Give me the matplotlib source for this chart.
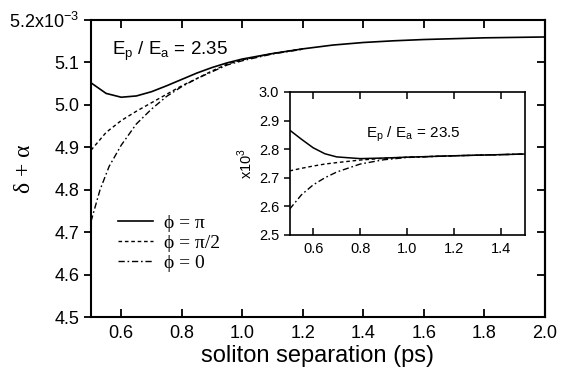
"""Soliton separation plot with inset"""

import matplotlib
matplotlib.use("Agg")
import matplotlib.pyplot as plt

plt.rcParams['font.family'] = ['Liberation Sans', 'DejaVu Sans']
plt.rcParams['mathtext.fontset'] = 'custom'
plt.rcParams['mathtext.rm'] = 'Liberation Sans'

# main panel, E_p/E_a = 2.35  (values in units of 1e-3)
sep_pi = [0.5, 0.55, 0.6, 0.65, 0.7, 0.75, 0.8, 0.85, 0.9, 0.95, 1.0, 1.1, 1.2,
          1.3, 1.4, 1.5, 1.6, 1.8, 2.0]
val_pi = [5.052, 5.027, 5.018, 5.021, 5.031, 5.045, 5.060, 5.075, 5.088, 5.099,
          5.108, 5.121, 5.132, 5.141, 5.147, 5.151, 5.154, 5.158, 5.160]
sep_half = [0.5, 0.55, 0.6, 0.65, 0.7, 0.75, 0.8, 0.85, 0.9, 0.95, 1.0, 1.1, 1.2]
val_half = [4.893, 4.935, 4.963, 4.985, 5.005, 5.025, 5.045, 5.062, 5.080,
            5.096, 5.106, 5.121, 5.132]
sep_zero = [0.5, 0.53, 0.56, 0.6, 0.65, 0.7, 0.75, 0.8, 0.85, 0.9, 0.95, 1.0,
            1.1, 1.2]
val_zero = [4.725, 4.800, 4.855, 4.905, 4.955, 4.990, 5.020, 5.043, 5.062,
            5.078, 5.094, 5.104, 5.120, 5.131]

# inset, E_p/E_a = 23.5
ins_sep = [0.5, 0.55, 0.6, 0.65, 0.7, 0.8, 0.9, 1.0, 1.2, 1.5]
ins_pi = [2.867, 2.835, 2.805, 2.784, 2.773, 2.767, 2.769, 2.772, 2.777, 2.783]
ins_half = [2.724, 2.733, 2.741, 2.748, 2.753, 2.762, 2.768, 2.772, 2.777, 2.783]
ins_zero = [2.590, 2.640, 2.675, 2.700, 2.720, 2.748, 2.763, 2.771, 2.777, 2.783]

labels = [r"ϕ = π", r"ϕ = π/2", r"ϕ = 0"]
x_ticks = [0.6, 0.8, 1.0, 1.2, 1.4, 1.6, 1.8, 2.0]
y_ticks = [4.5, 4.6, 4.7, 4.8, 4.9, 5.0, 5.1, 5.2]
y_ticklabels = ["4.5", "4.6", "4.7", "4.8", "4.9", "5.0", "5.1",
                r"5.2x10$^{-3}$"]
ins_x_ticks = [0.6, 0.8, 1.0, 1.2, 1.4]
ins_y_ticks = [2.5, 2.6, 2.7, 2.8, 2.9, 3.0]

dash_style = (0, (2.6, 2.0))
dashdot_style = (0, (4.5, 2.0, 1.2, 2.0))
serif = ['Liberation Serif', 'DejaVu Serif']

fig = plt.figure(figsize=(5.7, 3.74), dpi=100)
ax = fig.add_axes([0.1596, 0.1524, 0.7964, 0.7941])

l1, = ax.plot(sep_pi, val_pi, color='k', lw=1.2, label=labels[0])
l2, = ax.plot(sep_half, val_half, color='k', lw=1.0, ls=dash_style,
              label=labels[1])
l3, = ax.plot(sep_zero, val_zero, color='k', lw=1.0, ls=dashdot_style,
              label=labels[2])

ax.set_xlim(0.5, 2.0)
ax.set_ylim(4.5, 5.2)
ax.set_xticks(x_ticks)
ax.set_xticklabels([f"{t:.1f}" for t in x_ticks], fontsize=13)
ax.set_yticks(y_ticks)
ax.set_yticklabels(y_ticklabels, fontsize=13)
ax.tick_params(axis='x', direction='in', top=True, length=6, width=1.3, pad=6)
ax.tick_params(axis='y', direction='out', right=False, length=5, width=1.3)
# inward ticks on the right side
rax = ax.secondary_yaxis('right')
rax.set_yticks(y_ticks)
rax.tick_params(axis='y', direction='in', length=6, width=1.3,
                labelright=False)
rax.spines['right'].set_linewidth(1.5)
for spine in ax.spines.values():
    spine.set_linewidth(1.5)
ax.set_xlabel("soliton separation (ps)", fontsize=17, labelpad=2)
ax.set_ylabel("δ + α", fontsize=17, family=serif)
ax.yaxis.set_label_coords(-0.124, 0.5)
ax.text(0.046, 0.882, r"E$_\mathrm{p}$ / E$_\mathrm{a}$ = 2.35",
        transform=ax.transAxes, fontsize=13.5)

ax.legend(handles=[l1, l2, l3], loc='upper left',
          bbox_to_anchor=(0.02, 0.405), frameon=False,
          handlelength=1.8, handletextpad=0.6, labelspacing=0.12,
          prop={'family': serif, 'size': 14})

# inset
ins = fig.add_axes([0.508, 0.3717, 0.413, 0.3824])
ins.plot(ins_sep, ins_pi, color='k', lw=1.1)
ins.plot(ins_sep, ins_half, color='k', lw=1.0, ls=dash_style)
ins.plot(ins_sep, ins_zero, color='k', lw=1.0, ls=dashdot_style)
ins.set_xlim(0.5, 1.5)
ins.set_ylim(2.5, 3.0)
ins.set_xticks(ins_x_ticks)
ins.set_xticklabels([f"{t:.1f}" for t in ins_x_ticks], fontsize=10.5)
ins.set_yticks(ins_y_ticks)
ins.set_yticklabels([f"{t:.1f}" for t in ins_y_ticks], fontsize=10.5)
ins.tick_params(axis='x', direction='in', top=True, length=5, width=1.1, pad=5)
ins.tick_params(axis='y', direction='out', length=4, width=1.1)
for spine in ins.spines.values():
    spine.set_linewidth(1.2)
ins.set_ylabel(r"x10$^{3}$", fontsize=10.5, labelpad=3)
ins.text(0.326, 0.68, r"E$_\mathrm{p}$ / E$_\mathrm{a}$ = 23.5",
         transform=ins.transAxes, fontsize=11)

fig.savefig("out.png", dpi=100)
